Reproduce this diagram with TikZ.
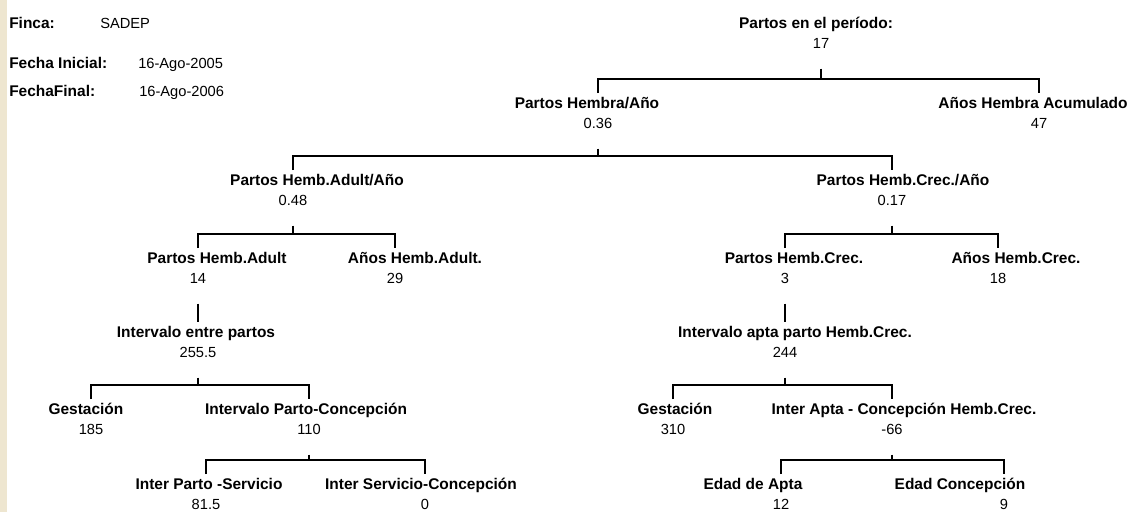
\documentclass[tikz,border=0pt]{standalone}
\usepackage{fontspec}
\setmainfont{Liberation Sans}

\definecolor{panel}{RGB}{238,230,208}

\begin{document}
\begin{tikzpicture}[
    x=0.75pt, y=-0.75pt,
    lbl/.style = {inner sep=0pt, font=\fontsize{11.6}{14}\selectfont\bfseries, text height=8.2pt, text depth=0pt},
    num/.style = {inner sep=0pt, font=\fontsize{11}{13}\selectfont, text height=8pt, text depth=0pt},
    conn/.style = {draw, line width=1.5pt, shorten <=7.5pt, shorten >=7.5pt},
    trunk/.style = {draw, line width=1.5pt, shorten <=15pt},
]
\useasboundingbox (0,0) rectangle (1135,512);
\fill[panel] (0,0) rectangle (7,512);

% Header
\node[lbl, anchor=west] (finca) at (9,23) {Finca:};
\node[num, anchor=west] (fincav) at (100,23) {SADEP};
\node[lbl, anchor=west] (fini) at (9,63) {Fecha Inicial:};
\node[num, anchor=west] (finiv) at (138,63) {16-Ago-2005};
\node[lbl, anchor=west] (ffin) at (9,91) {FechaFinal:};
\node[num, anchor=west] (ffinv) at (139,91) {16-Ago-2006};

% Root
\node[lbl] (parto) at (816,23) {Partos en el período:};
\node[num] (partov) at (821,43) {17};

% Level 1
\node[lbl] (phano) at (587,103) {Partos Hembra/Año};
\node[num] (phanov) at (598,123) {0.36};
\node[lbl] (ahacum) at (1033,103) {Años Hembra Acumulado};
\node[num] (ahacumv) at (1039,123) {47};

% Level 2
\node[lbl] (phadano) at (317,180) {Partos Hemb.Adult/Año};
\node[num] (phadanov) at (293,200) {0.48};
\node[lbl] (phcrano) at (903,180) {Partos Hemb.Crec./Año};
\node[num] (phcranov) at (892,200) {0.17};

% Level 3
\node[lbl] (phad) at (217,258) {Partos Hemb.Adult};
\node[num] (phadv) at (198,278) {14};
\node[lbl] (ahad) at (415,258) {Años Hemb.Adult.};
\node[num] (ahadv) at (395,278) {29};
\node[lbl] (phcr) at (794,258) {Partos Hemb.Crec.};
\node[num] (phcrv) at (785,278) {3};
\node[lbl] (ahcr) at (1016,258) {Años Hemb.Crec.};
\node[num] (ahcrv) at (998,278) {18};

% Level 4
\node[lbl] (iep) at (196,332) {Intervalo entre partos};
\node[num] (iepv) at (198,352) {255.5};
\node[lbl] (iapc) at (795,332) {Intervalo apta parto Hemb.Crec.};
\node[num] (iapcv) at (785,352) {244};

% Level 5
\node[lbl] (gesad) at (86,409) {Gestación};
\node[num] (gesadv) at (91,429) {185};
\node[lbl] (ipc) at (306,409) {Intervalo Parto-Concepción};
\node[num] (ipcv) at (309,429) {110};
\node[lbl] (gescr) at (675,409) {Gestación};
\node[num] (gescrv) at (673,429) {310};
\node[lbl] (iac) at (904,409) {Inter Apta - Concepción Hemb.Crec.};
\node[num] (iacv) at (892,429) {-66};

% Level 6
\node[lbl] (ips) at (209,484) {Inter Parto -Servicio};
\node[num] (ipsv) at (206,504) {81.5};
\node[lbl] (isc) at (421,484) {Inter Servicio-Concepción};
\node[num] (iscv) at (425,504) {0};
\node[lbl] (eda) at (753,484) {Edad de Apta};
\node[num] (edav) at (781,504) {12};
\node[lbl] (edc) at (960,484) {Edad Concepción};
\node[num] (edcv) at (1004,504) {9};

% Connectors
\path[trunk] (partov) -- ([yshift=18pt]phano -| partov);
\path[conn] (phano -| phanov) -- ++(0,-24) -| (ahacum -| ahacumv);

\path[trunk] (phanov) -- ([yshift=18pt]phadano -| phanov);
\path[conn] (phadano -| phadanov) -- ++(0,-24) -| (phcrano -| phcranov);

\path[trunk] (phadanov) -- ([yshift=18pt]phad -| phadanov);
\path[conn] (phad -| phadv) -- ++(0,-24) -| (ahad -| ahadv);
\path[trunk] (phcranov) -- ([yshift=18pt]phcr -| phcranov);
\path[conn] (phcr -| phcrv) -- ++(0,-24) -| (ahcr -| ahcrv);

\path[trunk, shorten >=7.5pt] (phadv) -- (iep -| phadv);
\path[trunk, shorten >=7.5pt] (phcrv) -- (iapc -| phcrv);

\path[trunk] (iepv) -- ([yshift=18pt]gesad -| iepv);
\path[conn] (gesad -| gesadv) -- ++(0,-24) -| (ipc -| ipcv);
\path[trunk] (iapcv) -- ([yshift=18pt]gescr -| iapcv);
\path[conn] (gescr -| gescrv) -- ++(0,-24) -| (iac -| iacv);

\path[trunk] (ipcv) -- ([yshift=18pt]ips -| ipcv);
\path[conn] (ips -| ipsv) -- ++(0,-24) -| (isc -| iscv);
\path[trunk] (iacv) -- ([yshift=18pt]eda -| iacv);
\path[conn] (eda -| edav) -- ++(0,-24) -| (edc -| edcv);

\end{tikzpicture}
\end{document}
